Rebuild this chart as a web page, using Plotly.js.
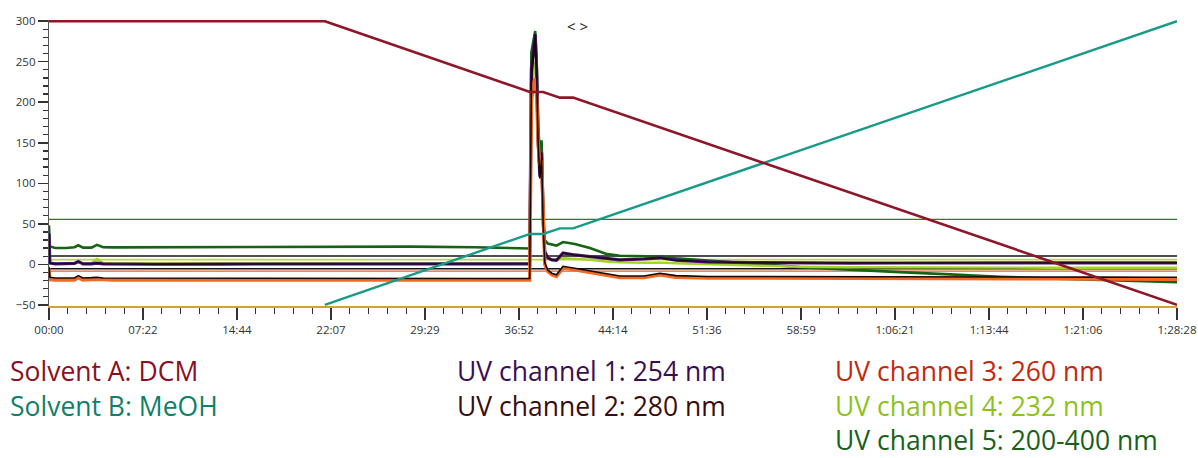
<!DOCTYPE html>
<html><head><meta charset="utf-8">
<script src="https://cdn.plot.ly/plotly-3.0.1.min.js"></script>
<style>html,body{margin:0;padding:0;background:#fff}#chart{width:1198px;height:458px}</style>
</head><body><div id="chart"></div>
<script>
// ---- x axis ticks (seconds) ----
const xTickVals = [0, 442, 884, 1327, 1769, 2212, 2654, 3096, 3539, 3981, 4424, 4866, 5308];
const xTickText = ["00:00","07:22","14:44","22:07","29:29","36:52","44:14","51:36","58:59","1:06:21","1:13:44","1:21:06","1:28:28"];

// ---- solvent gradient ----
const tSolventA = [0, 1298, 2263, 2325, 2404, 2466, 5308];
const solventA  = [300, 300, 212.6, 212.6, 205.7, 205.7, -50];
const tSolventB = [1298, 2263, 2325, 2404, 2466, 5308];
const solventB  = [-50, 37.4, 37.4, 44.3, 44.3, 300];

// ---- UV channels (shared time axis, seconds) ----
const tUV = [0, 4, 30, 80, 120, 138, 160, 200, 226, 255, 300, 500, 800, 1100, 1400, 1700, 2000, 2250, 2262,
  2270, 2279, 2288, 2295, 2302, 2310, 2318, 2326, 2333, 2347, 2366, 2388, 2419, 2474, 2545, 2620, 2686,
  2800, 2875, 2950, 3100, 3300, 3534, 3769, 4004, 4240, 4475, 4711, 4946, 5181, 5308];
const uv5 = [48, 22, 20, 20, 21, 23.5, 20.5, 20.5, 24, 21, 20.8, 21, 21.3, 21.8, 22.3, 21.8, 21, 19.5, 19.5,
  262, 276, 288, 245, 170, 138, 153, 62, 30, 25.5, 24.5, 23, 27.5, 25, 20, 13, 10.5,
  10, 9.5, 7.5, 5, 1, -3.5, -7, -9.7, -12.5, -15.5, -17.5, -19.5, -21, -22];
const uv4 = [30, 1.5, 1, 1, 1.5, 2.5, 1, 1.5, 6.5, 1.5, 1, 1, 1, 1, 1, 1, 1, 1, 1,
  210, 235, 250, 210, 140, 110, 125, 40, 10, 7, 6, 6, 7.5, 7, 5.5, 3.5, 2.5,
  1.8, 2, 1.2, 0, -1.5, -3, -3.7, -4, -4.2, -4.2, -4.2, -4.3, -4.3, -4.3];
const uv1 = [38, 1.5, 0.5, 0.5, 1, 3.5, 0.5, 0.5, 1.5, 0.5, 0.3, 0, 0.3, 0.5, 0.7, 0.5, 0.5, 0.5, 0.5,
  242, 266, 284, 238, 152, 108, 138, 50, 16, 8, 5.5, 5, 14, 11.5, 9.5, 6.5, 5.5,
  6.5, 8, 5, 3, 2, 1.5, 1.5, 1.6, 1.6, 1.7, 1.7, 1.8, 1.8, 1.8];
const uv3 = [-5, -19, -19.5, -20, -19.5, -16.5, -19.5, -19, -18.5, -19, -19.5, -19.5, -19.5, -19.5, -19.5, -19.5, -19.5, -19.5, -19.5,
  200, 222, 230, 205, 148, 122, 128, 38, 0, -9, -13, -15, -4.5, -7, -10, -14, -16.5,
  -16.5, -13, -16, -17, -17, -17, -17.3, -17.5, -17.7, -17.9, -18, -18.2, -18.3, -18.4];
const uv2 = [-3, -16, -17, -17.5, -17, -14, -17, -16.5, -16, -17, -17, -17.5, -17.5, -17.5, -17.5, -17.5, -17.5, -17.5, -17.5,
  225, 258, 280, 228, 148, 106, 131, 44, 2, -7, -11, -13, -2.5, -5, -8, -12, -14.5,
  -14.5, -11, -14, -15, -15, -15, -15.3, -15.5, -15.5, -15.7, -15.8, -15.9, -16, -16];

// ---- constant reference levels ----
const tRef = [0, 5308];
const refGreen = [55.3, 55.3];
const refBlackHigh = [10.3, 10.3];
const refYellow = [5.8, 5.8];
const refBlackLow = [-5.5, -5.5];
const refOrange = [-8.5, -8.5];

// ---- legend texts ----
const legendTexts = ["Solvent A: DCM", "Solvent B: MeOH", "UV channel 1: 254 nm", "UV channel 2: 280 nm",
  "UV channel 3: 260 nm", "UV channel 4: 232 nm", "UV channel 5: 200-400 nm"];

function line(x, y, color, width) {
  return {x: x, y: y, type: 'scatter', mode: 'lines', line: {color: color, width: width}, hoverinfo: 'skip'};
}

const traces = [
  line(tRef, refGreen, '#2f7a2f', 1.3),
  line(tRef, refBlackHigh, '#151515', 1.6),
  line(tRef, refYellow, '#b8dc3c', 1.6),
  line(tRef, refBlackLow, '#151515', 1.6),
  line(tRef, refOrange, '#e2602c', 1.4),
  line(tUV, uv5, '#146414', 2.6),
  line(tUV, uv4, '#a6d22c', 2.4),
  line(tUV, uv1, '#4e1470', 3.2),
  line(tUV, uv1, '#1a0a1e', 1.4),
  line(tUV, uv3, '#f06a24', 3.4),
  line(tUV, uv2, '#1a0808', 1.6),
  line(tSolventB, solventB, '#179a88', 2.4),
  line(tSolventA, solventA, '#8e1629', 2.6)
];

const L = 49, T = 20, PW = 1128, PH = 286;
const px = p => (p - L) / PW;
const py = p => 1 - (p - T) / PH;
const fontFam = '"Open Sans", "Noto Sans", sans-serif';
const legendColors = ['#8b0f22', '#10806a', '#3a0f52', '#3a0d0d', '#c4280c', '#8cc21c', '#17621a'];
const legendPos = [[8, 371], [8, 406], [455, 371], [455, 406], [833, 371], [833, 406], [833, 440]];
const annotations = legendTexts.map((t, i) => ({
  text: t, xref: 'paper', yref: 'paper', x: px(legendPos[i][0]), y: py(legendPos[i][1]),
  xanchor: 'left', yanchor: 'middle', showarrow: false,
  font: {family: fontFam, size: 26.5, color: legendColors[i]}
}));
annotations.push({text: '&lt; &gt;', xref: 'paper', yref: 'paper', x: px(577), y: py(26),
  xanchor: 'center', yanchor: 'middle', showarrow: false,
  font: {family: fontFam, size: 15, color: '#222'}});

const layout = {
  width: 1198, height: 458,
  margin: {l: L, r: 1198 - L - PW, t: T, b: 458 - T - PH, pad: 0},
  paper_bgcolor: '#fff', plot_bgcolor: '#fff',
  showlegend: false,
  font: {family: fontFam, size: 11.5, color: '#333'},
  xaxis: {
    range: [0, 5308], tickvals: xTickVals, ticktext: xTickText,
    showgrid: false, zeroline: false, showline: true, linecolor: '#d1a23c', linewidth: 2,
    ticks: 'outside', ticklen: 12, tickwidth: 1.5, tickcolor: '#333',
    tickfont: {family: fontFam, size: 11.5, color: '#333'},
    minor: {dtick: 88.467, tick0: 0, ticks: 'outside', ticklen: 6, tickwidth: 1.3, tickcolor: '#333', showgrid: false}
  },
  yaxis: {
    range: [-51.5, 301.5], tickvals: [-50, 0, 50, 100, 150, 200, 250, 300],
    showgrid: false, zeroline: false, showline: true, linecolor: '#555', linewidth: 1.2,
    ticks: 'outside', ticklen: 10, tickwidth: 1.5, tickcolor: '#333',
    tickfont: {family: fontFam, size: 11.5, color: '#333'},
    minor: {dtick: 10, tick0: 0, ticks: 'outside', ticklen: 5, tickwidth: 1.3, tickcolor: '#333', showgrid: false}
  },
  annotations: annotations
};

Plotly.newPlot('chart', traces, layout, {displayModeBar: false, staticPlot: true});
</script></body></html>
